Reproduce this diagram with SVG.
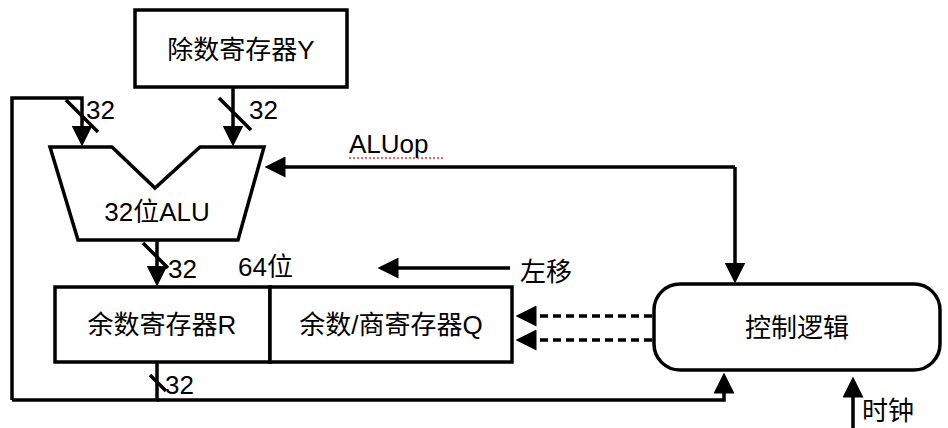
<svg xmlns="http://www.w3.org/2000/svg" width="948" height="428" viewBox="0 0 948 428">
<style>
.s{fill:none;stroke:#000;stroke-width:3.5}
.b{fill:#fff;stroke:#000;stroke-width:3.5}
.t{font-family:"Liberation Sans","Noto Sans CJK SC",sans-serif;font-size:26px;fill:#000}
.d{fill:none;stroke:#000;stroke-width:3.5;stroke-dasharray:8 5}
</style>
<defs>
<marker id="a" markerWidth="6" markerHeight="6" refX="5" refY="3" orient="auto" markerUnits="strokeWidth"><path d="M0,0 L6,3 L0,6z" fill="#000"/></marker>
</defs>
<g id="conn">
<path class="s" d="M12,400 V98 H82 V143" marker-end="url(#a)"/>
<path class="s" d="M233,87 V143" marker-end="url(#a)"/>
<path class="s" d="M157,240 V283" marker-end="url(#a)"/>
<path class="s" d="M157,362 V400 H12"/>
<path class="s" d="M157,400 H724 V376" marker-end="url(#a)"/>
<path class="s" d="M735,167 H268" marker-end="url(#a)"/>
<path class="s" d="M735,167 V280" marker-end="url(#a)"/>
<path class="s" d="M510,268 H381" marker-end="url(#a)"/>
<path class="d" d="M652,316 H519" marker-end="url(#a)"/>
<path class="d" d="M652,340 H519" marker-end="url(#a)"/>
<path class="s" d="M853,428 V380" marker-end="url(#a)"/>
<path class="s" stroke-width="2.5" d="M66,100 L98,132 M219,98 L251,130 M143,243 L168,268 M150,375 L166,391"/>
<line x1="349" y1="158" x2="443" y2="158" stroke="#d33" stroke-width="1.5" stroke-dasharray="2 2"/>
</g>
<g id="y"><rect class="b" x="135" y="10" width="212" height="77"/><text class="t" x="241" y="59" text-anchor="middle">除数寄存器Y</text></g>
<g id="alu"><path class="b" d="M50,147 H112 L155,188 L200,147 H264 L238,240 H78 Z"/><text class="t" x="157" y="221" text-anchor="middle">32位ALU</text></g>
<g id="r"><rect class="b" x="55" y="287" width="215" height="75"/><text class="t" x="162" y="334" text-anchor="middle">余数寄存器R</text></g>
<g id="q"><rect class="b" x="270" y="287" width="242" height="75"/><text class="t" x="391" y="334" text-anchor="middle">余数/商寄存器Q</text></g>
<g id="ctl"><rect class="b" x="654" y="284" width="286" height="86" rx="26"/><text class="t" x="797" y="337" text-anchor="middle">控制逻辑</text></g>
<g id="labels">
<text class="t" x="86" y="119">32</text>
<text class="t" x="249" y="119">32</text>
<text class="t" x="349" y="153">ALUop</text>
<text class="t" x="168" y="278">32</text>
<text class="t" x="238" y="276">64位</text>
<text class="t" x="520" y="281">左移</text>
<text class="t" x="165" y="394">32</text>
<text class="t" x="862" y="420">时钟</text>
</g>
</svg>
